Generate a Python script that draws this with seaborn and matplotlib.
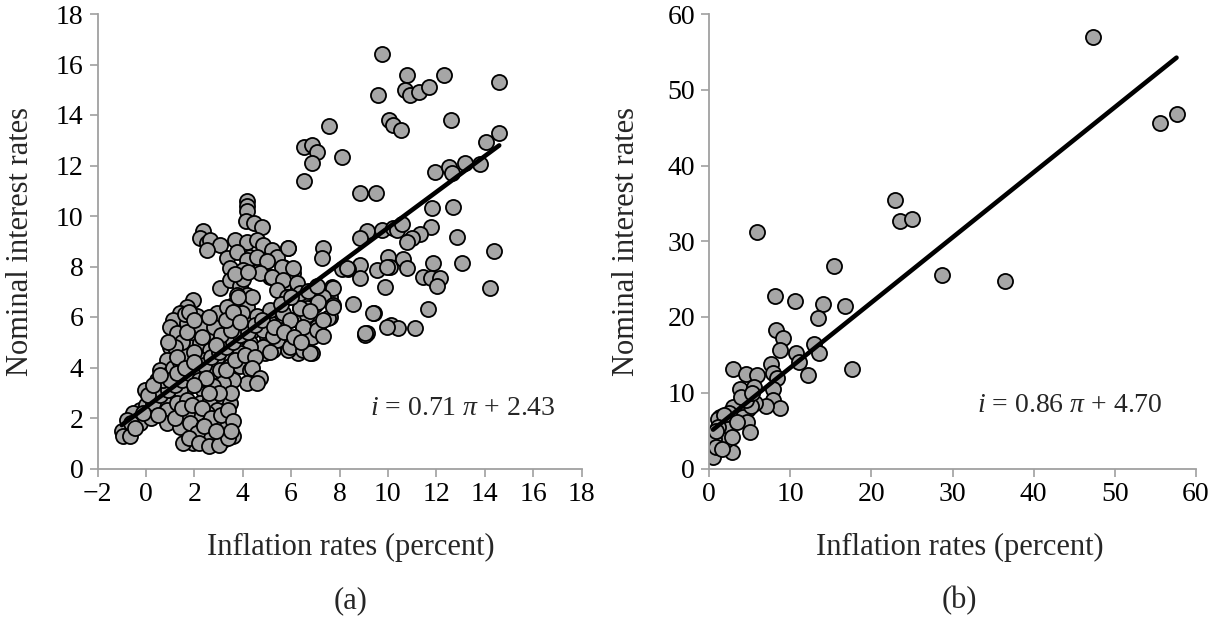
import matplotlib
matplotlib.use("Agg")
import matplotlib.pyplot as plt
import seaborn as sns
import pandas as pd
import numpy as np

# ---------------- data : panel (a) ----------------
infl_a_upper = [9.75, 10.8, 12.3, 14.6, 9.6, 10.7, 10.9, 11.3, 11.7, 10.05, 10.2, 10.55, 12.6, 7.55,
                14.6, 14.05, 6.53, 6.85, 7.08, 6.85, 8.12, 6.53, 11.95, 12.52, 12.64, 13.2, 13.8,
                12.68, 11.84, 8.85, 9.5]
rate_a_upper = [16.4, 15.6, 15.6, 15.3, 14.8, 15.0, 14.8, 14.9, 15.1, 13.8, 13.6, 13.4, 13.8, 13.56,
                13.3, 12.94, 12.74, 12.81, 12.55, 12.11, 12.35, 11.4, 11.75, 11.95, 11.69, 12.09, 12.06,
                10.37, 10.3, 10.92, 10.9]

infl_a_mid = [9.12, 8.85, 9.74, 10.2, 10.36, 10.6, 11.78, 11.33, 10.98, 10.8, 12.84, 14.4, 7.3, 7.26,
              8.85, 8.85, 8.36, 8.09, 9.56, 10.02, 10.09, 10.64, 10.8, 11.88, 13.07, 9.88, 11.46,
              11.77, 12.15, 12.04, 14.22, 8.57, 9.43, 11.67, 9.12, 9.05, 10.12, 10.43, 11.12,
              7.7, 7.6, 7.27, 6.99, 6.64, 6.5, 7.6, 7.12, 6.5, 5.89, 7.75, 7.33, 7.13, 7.75, 7.54,
              9.4, 9.06, 9.95, 6.37, 6.64, 7.06, 6.85, 6.3, 6.85, 5.89, 5.27, 4.92, 5.68, 6.09,
              6.23, 5.68, 5.13, 4.72, 4.3, 5.82, 6.37, 5.54, 5.96, 5.54, 5.13, 4.72, 5.4, 4.99,
              4.44, 4.85, 4.3, 8.3, 9.95]
rate_a_mid = [9.4, 9.12, 9.45, 9.51, 9.45, 9.67, 9.58, 9.29, 9.12, 8.98, 9.18, 8.61, 8.72, 8.32,
              8.06, 7.53, 7.89, 7.89, 7.86, 8.39, 7.99, 8.28, 7.95, 8.15, 8.13, 7.2, 7.6,
              7.53, 7.53, 7.23, 7.14, 6.5, 6.17, 6.32, 5.35, 5.29, 5.68, 5.55, 5.55,
              7.2, 6.8, 6.8, 6.47, 6.34, 6.0, 6.0, 5.55, 5.55, 8.72, 7.14, 6.8, 6.61, 6.48, 5.95,
              6.15, 5.35, 5.62, 6.34, 6.08, 5.62, 5.22, 4.56, 4.56, 4.69, 4.69, 4.56, 7.99, 7.73,
              7.2, 7.2, 7.6, 7.86, 8.39, 6.81, 7.07, 6.41, 5.88, 5.49, 5.75, 6.01, 5.09, 5.22,
              5.49, 4.83, 4.96, 7.93, 7.99]

infl_a_core = [4.16, 4.19, 4.16, 4.14, 4.47, 4.78, 2.35, 2.24, 2.51, 2.65, 3.06, 2.54,
               3.68, 4.16, 4.58, 4.85, 5.2, 5.4, 5.89,
               3.34, 3.75, 4.16, 4.58, 4.99, 5.61, 6.09,
               3.48, 4.03, 4.71, 5.2, 5.68, 6.23,
               3.06, 3.48, 3.89, 4.16, 3.75, 3.61,
               5.4, 5.82, 6.37, 6.71, 7.06,
               4.16, 4.58, 3.96, 3.61, 3.2, 2.92,
               5.13, 5.68, 5.95, 6.37, 6.78, 6.51, 7.06, 7.33, 7.75,
               4.85, 5.27, 4.85, 5.13, 5.95, 6.51, 6.78, 7.33,
               1.96, 1.68, 1.41, 1.13, 1.0, 1.27, 1.68, 2.1, 2.51, 2.92, 3.34, 2.92, 2.51, 2.24,
               1.0, 1.41, 1.82, 2.24, 2.65, 3.2, 3.61, 4.03, 4.3, 3.89, 3.34, 2.92, 2.37, 1.82, 1.27, 0.86,
               0.58, 1.0, 1.41, 1.82, 2.24, 2.65, 3.06, 3.48, 3.89, 4.3, 4.58, 4.16, 3.61, 3.2, 2.79,
               2.37, 1.82, 1.41, 1.0, 0.44,
               -0.04, 0.31, 0.72, 0.17, -0.24, -0.52, -0.79, -1.0, -0.93, -0.66, -0.24, 0.44, 0.86,
               1.27, 1.68, 2.24, 2.65, 3.2, 3.48, 2.92, 2.51, 2.1, 1.68,
               0.86, 1.41, 1.82, 2.37, 2.92, 3.34, 3.61, 3.2, 2.79, 2.37, 1.96, 1.55, 2.65, 2.1,
               0.0, 0.3, 0.6, 0.9, 1.2, 1.5, 1.8, 2.1, 2.4, 2.7, 3.0, 3.3, 3.6, 3.9, 4.2, 4.5, 4.8,
               1.1, 1.4, 1.7, 2.0, 0.7, 1.0, 1.3, -0.6, -0.45, 0.1, 1.6, 1.8]
rate_a_core = [10.61, 10.4, 10.18, 9.82, 9.74, 9.56, 9.42, 9.12, 8.92, 9.05, 8.86, 8.66,
               9.05, 8.99, 9.05, 8.86, 8.66, 8.39, 8.72,
               8.33, 8.59, 8.26, 8.39, 8.2, 8.0, 7.93,
               7.93, 7.87, 7.73, 7.6, 7.47, 7.34,
               7.14, 7.47, 7.21, 6.88, 6.88, 6.48,
               7.07, 6.81, 6.94, 7.01, 7.21,
               6.41, 6.02, 6.15, 5.75, 6.02, 5.62,
               6.28, 6.15, 5.89, 6.35, 6.22, 5.62, 5.49, 5.89, 6.41,
               5.49, 5.23, 4.83, 4.63, 4.83, 4.7, 4.57, 5.23,
               6.68, 6.41, 6.15, 5.89, 5.62, 5.36, 5.75, 6.02, 5.89, 6.15, 6.41, 5.23, 5.36, 5.62,
               4.83, 4.57, 4.83, 4.96, 4.7, 4.83, 5.1, 5.23, 4.83, 4.57, 4.3, 4.43, 4.3, 4.3, 4.17, 4.3,
               3.91, 3.77, 3.64, 3.77, 3.91, 3.77, 3.91, 4.04, 4.04, 3.91, 3.51, 3.38, 3.51, 3.38, 3.25,
               3.11, 3.25, 3.11, 3.25, 3.51,
               3.11, 2.85, 2.72, 2.45, 2.32, 2.19, 1.93, 1.5, 1.3, 1.27, 1.79, 2.19, 2.32,
               2.59, 2.72, 2.59, 2.72, 2.85, 2.59, 2.32, 2.19, 2.19, 2.19,
               1.79, 1.66, 1.79, 1.66, 1.79, 1.66, 1.27, 1.13, 1.0, 1.13, 1.0, 1.0, 1.4, 1.4,
               2.5, 2.6, 2.9, 3.1, 3.3, 3.5, 3.8, 4.0, 4.1, 4.4, 4.6, 4.8, 5.0, 5.3, 5.4, 5.7, 5.9,
               4.0, 4.2, 4.5, 4.6, 3.5, 3.5, 3.8, 1.8, 1.6, 2.9, 6.1, 6.2]

infl_a_fill = [1.2, 1.5, 1.9, 2.3, 2.7, 3.1, 3.4, 3.6, 3.5, 3.0, 2.6, 2.2, 2.5, 3.3, 3.7, 4.1,
               4.5, 4.4, 4.7, 4.6, 2.8, 3.1, 3.5, 3.3, 2.6, 2.3, 1.5, 1.2, 0.9, 1.7, 2.0, 3.6,
               3.9, 4.4, 4.0, 3.7, 5.6, 6.0, 5.3, 5.7, 6.1, 6.4, 0.3, 0.6, 0.2, -0.1, 0.5,
               1.8, 2.2, 2.6, 3.0, 3.4, 3.5, 2.4, 2.9, 1.3, 1.6, 2.0, 3.8, 4.2, 2.0, 2.9]
rate_a_fill = [2.0, 2.4, 2.5, 2.4, 2.0, 2.1, 2.3, 1.9, 3.0, 3.0, 3.0, 3.5, 3.6, 3.9, 4.3, 4.5,
               4.4, 4.0, 3.6, 3.4, 5.6, 5.3, 5.5, 5.9, 6.0, 5.2, 5.0, 4.8, 5.0, 5.4, 5.9, 6.2,
               5.8, 6.8, 7.5, 7.7, 6.5, 6.8, 5.6, 5.4, 5.2, 5.0, 3.3, 3.7, 2.0, 2.2, 2.1,
               1.2, 1.0, 0.9, 0.95, 1.2, 1.5, 1.7, 1.5, 4.4, 4.0, 4.2, 6.8, 7.8, 3.3, 4.9]

slope_a, intercept_a = 0.71, 2.43

# ---------------- data : panel (b) ----------------
infl_b = [47.3, 55.6, 57.6, 22.9, 23.5, 25.0, 5.9, 15.4, 28.7, 36.5, 8.1, 10.6, 14.0, 16.7,
          13.4, 8.2, 9.1, 8.7, 12.9, 10.7, 13.5, 11.1, 17.6, 12.2, 7.7, 7.9, 8.4, 7.9, 7.9,
          8.7, 7.0, 3.0, 4.5, 5.9, 3.8, 5.5, 3.8, 5.7, 4.8, 3.0, 4.2, 4.7, 5.0, 2.5, 1.4,
          1.1, 1.8, 2.4, 2.8, 2.1, 0.6, 2.8, 0.5, 0.9, 1.6, 1.1, 3.5, 5.2, 4.5, 0.9, 4.0, 5.3]
rate_b = [56.9, 45.6, 46.8, 35.4, 32.7, 33.0, 31.2, 26.7, 25.5, 24.8, 22.8, 22.1, 21.7, 21.5,
          19.9, 18.3, 17.2, 15.6, 16.4, 15.3, 15.2, 14.1, 13.2, 12.3, 13.8, 12.6, 11.9, 10.5, 9.0,
          8.0, 8.3, 13.2, 12.5, 12.4, 10.5, 10.8, 8.6, 8.6, 7.9, 8.1, 6.8, 6.2, 4.8, 7.3, 6.8,
          6.5, 7.0, 5.2, 2.2, 3.7, 3.9, 4.2, 1.5, 2.9, 2.6, 5.5, 6.2, 8.3, 9.1, 4.9, 9.5, 10.0]

slope_b, intercept_b = 0.86, 4.70

xticks_a = list(range(-2, 19, 2))
yticks_a = list(range(0, 19, 2))
xticks_b = list(range(0, 61, 10))
yticks_b = list(range(0, 61, 10))

x_label = "Inflation rates (percent)"
y_label = "Nominal interest rates"

# ---------------- style ----------------
sns.set_theme(style="white")
plt.rcParams["font.family"] = ["Liberation Serif", "DejaVu Serif"]
plt.rcParams["mathtext.fontset"] = "custom"
plt.rcParams["mathtext.rm"] = "Liberation Serif"
plt.rcParams["mathtext.it"] = "Liberation Serif:italic"
plt.rcParams["axes.unicode_minus"] = True

POINT_FILL = "#A6A6A6"
SPINE = "#A0A0A0"

fig = plt.figure(figsize=(12.09, 6.17), dpi=100)
W, H = 1209, 617
ax_a = fig.add_axes([97.5 / W, (H - 468.5) / H, 484 / W, 454.5 / H])
ax_b = fig.add_axes([709 / W, (H - 468.5) / H, 487 / W, 454.5 / H])


def panel(ax, xs, ys, slope, intercept, xlim, ylim, xticks, yticks, eq, eq_pos,
          xlab_x, ylab_x, tag):
    df = pd.DataFrame({"inflation": xs, "rate": ys})
    sns.scatterplot(data=df, x="inflation", y="rate", ax=ax, s=118, color=POINT_FILL,
                    edgecolor="black", linewidth=1.3, legend=False, zorder=2)
    lx = np.array([df["inflation"].min(), df["inflation"].max()])
    line_df = pd.DataFrame({"inflation": lx, "rate": slope * lx + intercept})
    sns.lineplot(data=line_df, x="inflation", y="rate", ax=ax, color="black",
                 linewidth=3.3, zorder=3)
    ax.set_xlim(*xlim)
    ax.set_ylim(*ylim)
    ax.set_xticks(xticks)
    ax.set_yticks(yticks)
    for s in ["top", "right"]:
        ax.spines[s].set_visible(False)
    for s in ["left", "bottom"]:
        ax.spines[s].set_color(SPINE)
        ax.spines[s].set_linewidth(1.3)
    ax.tick_params(axis="both", which="major", bottom=True, left=True, direction="out",
                   length=6, width=1.2, color=SPINE, labelsize=20, labelcolor="black", pad=4)
    ax.set_xlabel(x_label, fontsize=22)
    ax.set_ylabel(y_label, fontsize=22)
    ax.xaxis.set_label_coords(xlab_x, -0.173)
    ax.xaxis.label.set_va("center")
    ax.yaxis.set_label_coords(ylab_x, 0.5)
    ax.yaxis.label.set_va("center")
    ax.text(eq_pos[0], eq_pos[1], eq, transform=ax.transAxes, fontsize=20,
            ha="center", va="center")
    ax.text(xlab_x, -0.29, tag, transform=ax.transAxes, fontsize=22,
            ha="center", va="center")


panel(ax_a, infl_a_upper + infl_a_mid + infl_a_core + infl_a_fill,
      rate_a_upper + rate_a_mid + rate_a_core + rate_a_fill,
      slope_a, intercept_a, (-2, 18), (0, 18), xticks_a, yticks_a,
      r"$i$ = 0.71 $\pi$ + 2.43", (0.755, 0.133), 0.523, -0.160, "(a)")
panel(ax_b, infl_b, rate_b, slope_b, intercept_b, (0, 60), (0, 60), xticks_b, yticks_b,
      r"$i$ = 0.86 $\pi$ + 4.70", (0.741, 0.139), 0.515, -0.170, "(b)")

fig.savefig("out.png", dpi=100)
